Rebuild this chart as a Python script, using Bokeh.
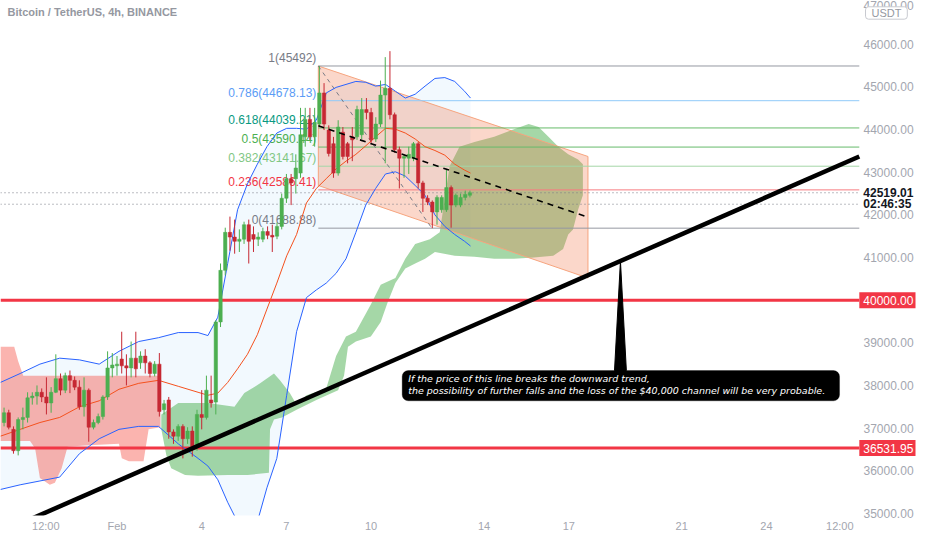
from bokeh.plotting import figure
from bokeh.models import FixedTicker, PrintfTickFormatter, Range1d, Label, BoxAnnotation
from bokeh.core.properties import value
from bokeh.embed import file_html
from bokeh.resources import INLINE

title_text = "Bitcoin / TetherUS, 4h, BINANCE"

# 4h candles, time in days from Feb 1 00:00 (first candle Jan 28 00:00)
candle_open = [37130, 37360, 36970, 36470, 37200, 37250, 37710, 37750, 37840, 37730,
               37590, 37840, 38160, 37890, 38230, 38120, 37960, 37500, 37890, 37020,
               37130, 37270, 37730, 38410, 38460, 38620, 38460, 38410, 38640, 38530,
               38690, 38530, 38280, 38500, 37430, 37660, 36910, 36810, 37040, 36750,
               36930, 36560, 37320, 37250, 37660, 37610, 39490, 40700, 41590, 41480,
               41380, 41430, 41770, 41540, 41430, 41430, 41610, 41520, 41500, 41730,
               42390, 42850, 42850, 42980, 43830, 44240, 43830, 44130, 44860, 43990,
               43670, 42980, 43940, 43670, 43830, 43830, 43880, 44470, 44400, 43780,
               44130, 44810, 44970, 44350, 43530, 43330, 43330, 43330, 43670, 42750,
               42390, 42300, 42070, 42120, 42120, 42640, 42230, 42230, 42410, 42460]
candle_high = [37480, 37430, 37040, 37250, 37480, 37840, 37840, 38000, 37930, 38190,
               37960, 38730, 38280, 38300, 38350, 38210, 38120, 38190, 37930, 37200,
               37340, 37770, 38800, 38760, 38690, 39260, 38730, 39030, 39260, 38800,
               38850, 38570, 38570, 38760, 37660, 37730, 36970, 37090, 37090, 37020,
               37040, 37430, 37890, 38230, 38230, 39530, 40860, 41700, 41960, 41890,
               41660, 41840, 41890, 41730, 41590, 41700, 41730, 41770, 41820, 42500,
               42960, 42960, 43420, 44510, 44510, 44510, 44510, 45492, 45090, 44100,
               43830, 44220, 44060, 43710, 44060, 44560, 44740, 44740, 44510, 44290,
               45150, 45700, 45840, 44400, 43600, 43420, 43600, 43710, 43710, 42800,
               42460, 42340, 42460, 42460, 43080, 42690, 42500, 42500, 42570, 42570]
candle_low = [37040, 36970, 36400, 36360, 36970, 37130, 37550, 37550, 37610, 37320,
              37360, 37820, 37770, 37820, 37820, 37890, 37430, 37270, 36680, 36970,
              37090, 37200, 37660, 38190, 38230, 38280, 38000, 38190, 38190, 38390,
              38280, 38190, 38210, 37270, 37320, 36750, 36630, 36700, 36290, 36630,
              36330, 36470, 36970, 37200, 37480, 37320, 39370, 40580, 41160, 41090,
              41130, 41320, 40860, 41130, 41270, 41360, 41430, 41130, 41430, 41660,
              42280, 42230, 42500, 42870, 43600, 43760, 43600, 44060, 43990, 43370,
              42870, 42920, 43300, 43210, 43260, 43760, 43780, 44240, 43670, 43710,
              44060, 43210, 44240, 43460, 42620, 42870, 42960, 43260, 42620, 42070,
              42230, 41688.88, 41770, 42050, 42070, 41700, 42180, 42180, 42340, 42410]
candle_close = [37360, 37020, 36470, 37200, 37250, 37710, 37750, 37840, 37730, 37590,
                37840, 38160, 37890, 38230, 38120, 37960, 37500, 37890, 37020, 37130,
                37270, 37730, 38410, 38480, 38500, 38460, 38410, 38640, 38390, 38690,
                38530, 38280, 38500, 37390, 37570, 36910, 36810, 37040, 36750, 36930,
                36560, 37320, 37250, 37890, 37590, 39490, 40700, 41590, 41480, 41380,
                41430, 41770, 41380, 41430, 41480, 41610, 41520, 41480, 41730, 42390,
                42850, 42750, 43100, 43880, 44240, 43830, 44170, 44860, 44130, 43440,
                42980, 44060, 43370, 43370, 43760, 44470, 44470, 44400, 43760, 44130,
                44810, 44970, 44350, 43530, 43330, 43370, 43420, 43670, 42750, 42390,
                42300, 42070, 42410, 42410, 42640, 42230, 42460, 42410, 42480, 42519.01]
candle_x = [-4 + i * 4 / 24 for i in range(len(candle_close))]

# Bollinger bands (read at sample times)
bb_x = [-4.13, -3.43, -2.73, -2.03, -1.33, -0.63, 0.07, 0.77, 1.47, 2.17, 2.87, 3.22, 3.57,
        3.92, 4.27, 4.62, 4.97, 5.31, 5.66, 6.01, 6.36, 6.71, 7.06, 7.41, 7.76, 8.11, 8.46,
        8.81, 9.16, 9.51, 9.86, 10.21, 10.56, 10.91, 11.26, 11.61, 11.96, 12.31, 12.52]
bb_upper = [38070, 38280, 38500, 38640, 38600, 38500, 38800, 39030, 39120, 39240, 39240, 39170,
            39600, 40860, 42120, 42730, 43190, 43600, 43920, 44030, 44030, 44010, 44220, 44860,
            44990, 45060, 45130, 45110, 45020, 45060, 44900, 44740, 44830, 45020, 45200, 45220,
            45130, 44900, 44740]
bb_mid = [36810, 36970, 37130, 37250, 37500, 37640, 37910, 38050, 38120, 37980, 37840, 37770,
          37820, 38070, 38390, 38730, 39190, 39790, 40400, 41040, 41540, 42280, 42620, 42850,
          43080, 43260, 43420, 43620, 43830, 44030, 44010, 43920, 43780, 43600, 43510, 43400,
          43190, 43050, 42980]
bb_lower = [35560, 35670, 35760, 35850, 36400, 36750, 36970, 37040, 37040, 36630, 36290, 36110,
            35790, 35260, 34800, 34640, 34800, 35600, 36290, 37770, 39260, 40060, 40240, 40400,
            40630, 40970, 41590, 42230, 42620, 42960, 43010, 42910, 42690, 42460, 42000, 41730,
            41540, 41380, 41270]

# Ichimoku cloud
red_x = [-4.13, -3.64, -3.50, -3.32, -3.08, -2.90, -2.73, -2.38, -2.20, -1.96, -1.75, -1.15,
         0.07, 0.17, 0.42, 0.94, 1.12, 1.54]
red_top = [38910, 38910, 38570, 38230, 38230, 38230, 38230, 38230, 38230, 38230, 38230, 38230,
           38230, 38230, 38230, 38230, 38230, 38230]
red_bottom = [36700, 36700, 36700, 36700, 36700, 36520, 35830, 35670, 35720, 36060, 36560, 36590,
              36630, 36290, 36220, 36220, 36970, 37020]
green_x = [1.57, 1.82, 2.17, 3.22, 4.16, 4.51, 5.07, 5.56, 5.77, 6.12, 6.36, 6.71, 7.41, 7.76,
           8.11, 8.46, 8.99, 9.34, 9.86, 10.21, 10.56, 11.08, 11.43, 11.78, 12.13, 12.66, 13.36,
           14.06, 14.58, 14.93, 15.28, 15.63, 15.98, 16.33, 16.50,
           16.50, 16.33, 16.15, 15.98, 15.80, 15.45, 14.76, 14.06, 13.36, 12.66, 11.96, 11.26,
           10.91, 10.56, 10.21, 9.86, 9.58, 9.34, 8.99, 8.46, 8.18, 8.04, 7.83, 7.06, 6.36, 5.84,
           5.56, 5.42, 5.38, 4.62, 3.92, 2.87, 2.41, 1.92, 1.75, 1.57]
green_y = [37320, 37430, 37590, 37590, 37500, 37820, 38050, 38280, 38120, 37820, 37550, 37770,
           37930, 38690, 39150, 39260, 39900, 40360, 40520, 40970, 41320, 41430, 41590, 43140,
           43600, 43710, 43830, 44010, 44130, 44060, 43830, 43600, 43420, 43300, 43190,
           42460, 42120, 41660, 41540, 41200, 41040, 41000, 40970, 40970, 41020, 41040, 41130,
           40970, 40860, 40740, 40400, 39940, 39490, 39150, 39030, 38910, 38230, 37890, 37660,
           37430, 37250, 37200, 36970, 35950, 35900, 35900, 35880, 35900, 36060, 36360, 36970]

# Fibonacci retracement
fib_start = 7.13
fib_levels = [45492, 44678.13, 44039.21, 43590.44, 43141.67, 42586.41, 41688.88]
fib_labels = ["1(45492)", "0.786(44678.13)", "0.618(44039.21)", "0.5(43590.44)",
              "0.382(43141.67)", "0.236(42586.41)", "0(41688.88)"]
fib_line_colors = ["#9598a1", "#90caf9", "#66bb6a", "#66bb6a", "#a5d6a7", "#f77c80", "#9598a1"]
fib_text_colors = ["#787b86", "#5b9cf6", "#089981", "#4caf50", "#81c784", "#f23645", "#787b86"]
fib_diag_x = [7.13, 11.15]
fib_diag_y = [45492, 41688.88]

# Parallel channel
channel_x = [7.13, 16.68, 16.68, 7.13]
channel_y = [45492, 43370, 40520, 42690]
channel_mid_x = [7.13, 16.68]
channel_mid_y = [44091, 41945]

# Levels and trend
red_levels = [40000, 36531.95]
last_price = 42519.01
countdown = "02:46:35"
dotted_levels = [42519.01, 42250]
trend_x = [-3.0, 26.29]
trend_y = [34882, 43370]

note_lines = ["If the price of this line breaks the downward trend,",
              "the possibility of further falls and the loss of the $40,000 channel will be very probable."]
note_box = dict(left=10.10, right=25.59, top=38350, bottom=37640)
note_line_y = [38170, 37870]
spike_x = [17.62, 17.83, 18.04]
spike_y = [38350, 40918, 38350]

x_ticks = [-2.52, 0, 3, 6, 9, 13, 16, 20, 23, 25.6]
x_tick_labels = ["12:00", "Feb", "4", "7", "10", "14", "17", "21", "24", "12:00"]
y_ticks = list(range(35000, 47001, 1000))

# view: price scale column sits inside the frame, right of X_PLOT
X0, X_PLOT, X_END = -4.126, 26.29, 28.28
Y0, Y1 = 34950, 47028
TAG_H = 187

p = figure(width=916, height=534, x_range=Range1d(X0, X_END), y_range=Range1d(Y0, Y1),
           output_backend="svg", toolbar_location=None, y_axis_location="right",
           min_border_left=0, min_border_top=0, min_border_right=0, min_border_bottom=18)
p.outline_line_color = None
p.grid.visible = False
p.background_fill_color = "white"
p.border_fill_color = "white"

AX_FONT = "Liberation Sans"
p.yaxis.ticker = FixedTicker(ticks=y_ticks)
p.yaxis.formatter = PrintfTickFormatter(format="%.2f")
p.xaxis.ticker = FixedTicker(ticks=x_ticks)
p.xaxis.major_label_overrides = {t: l for t, l in zip(x_ticks, x_tick_labels)}
for ax in (p.xaxis, p.yaxis):
    ax.axis_line_color = None
    ax.major_tick_line_color = None
    ax.minor_tick_line_color = None
    ax.major_tick_in = 0
    ax.major_tick_out = 0
    ax.minor_tick_in = 0
    ax.minor_tick_out = 0
    ax.major_label_text_color = "#a3a6af"
    ax.major_label_text_font = AX_FONT
p.yaxis.major_label_text_font_size = "12px"
p.xaxis.major_label_text_font_size = "11px"
p.yaxis.major_label_standoff = -52
p.xaxis.major_label_standoff = 4

# Bollinger fill
p.varea(x=bb_x, y1=bb_lower, y2=bb_upper, fill_color="#2196f3", fill_alpha=0.06)
# clouds
p.varea(x=red_x, y1=red_bottom, y2=red_top, fill_color="#f44336", fill_alpha=0.4)
p.patch(green_x, green_y, fill_color="#4caf50", fill_alpha=0.5, line_color=None)
# channel
p.patch(channel_x, channel_y, fill_color="#f0703f", fill_alpha=0.28, line_color="#f6a47e",
        line_width=1)
# fib lines
n = len(fib_levels)
p.segment(x0=[fib_start] * n, x1=[X_PLOT] * n, y0=fib_levels, y1=fib_levels,
          line_color=fib_line_colors, line_width=1)
p.line(fib_diag_x, fib_diag_y, line_color="#787b86", line_dash="4 4", line_width=1)
p.text(x=[7.06] * n, y=fib_levels, text=fib_labels, text_color=fib_text_colors,
       text_align="right", text_baseline="bottom", y_offset=-1,
       text_font=value(AX_FONT), text_font_size="12px")
# dotted lines
p.segment(x0=[X0] * 2, x1=[X_PLOT] * 2, y0=dotted_levels, y1=dotted_levels,
          line_color="#787b86", line_dash="1 3", line_width=1)
# red levels
p.segment(x0=[X0] * 2, x1=[X_PLOT] * 2, y0=red_levels, y1=red_levels,
          line_color="#f23645", line_width=3)
# bollinger lines
p.line(bb_x, bb_upper, line_color="#2962ff", line_width=1)
p.line(bb_x, bb_lower, line_color="#2962ff", line_width=1)
p.line(bb_x, bb_mid, line_color="#f4511e", line_width=1)

# candles
up_c = "#4caf50"
dn_c = "#c62833"
colors = [up_c if c >= o else dn_c for o, c in zip(candle_open, candle_close)]
p.segment(x0=candle_x, x1=candle_x, y0=candle_low, y1=candle_high, line_color=colors,
          line_width=1)
p.vbar(x=candle_x, width=0.12, top=[max(o, c) for o, c in zip(candle_open, candle_close)],
       bottom=[min(o, c) for o, c in zip(candle_open, candle_close)],
       fill_color=colors, line_color=colors, line_width=0.5)

# channel midline
p.line(channel_mid_x, channel_mid_y, line_color="black", line_dash="6 5", line_width=1.6)

# trend line
p.line(trend_x, trend_y, line_color="black", line_width=4.5)

# note
p.patch(spike_x, spike_y, fill_color="black", line_color="black")
p.add_layout(BoxAnnotation(left=note_box["left"], right=note_box["right"], top=note_box["top"],
                           bottom=note_box["bottom"], fill_color="black", fill_alpha=1,
                           line_color="black", border_radius=6))
for line, ly in zip(note_lines, note_line_y):
    p.add_layout(Label(x=note_box["left"], y=ly, x_offset=6, text=line,
                       text_color="white", text_font="DejaVu Sans", text_font_style="italic",
                       text_font_size="9.5px", text_baseline="middle"))

# title
p.add_layout(Label(x=X0, y=46754, x_offset=7, text=title_text, text_color="#9598a1",
                   text_font=AX_FONT, text_font_style="bold", text_font_size="11px",
                   text_baseline="middle"))

# price-scale tags (drawn above the scale labels)
p.quad(left=[X_PLOT] * 2, right=[X_END] * 2, top=[v + TAG_H for v in red_levels],
       bottom=[v - TAG_H for v in red_levels], fill_color="#f23645", line_color=None,
       level="annotation")
p.text(x=[X_PLOT] * 2, y=red_levels, text=["%.2f" % v for v in red_levels], x_offset=4,
       text_color="white", text_baseline="middle", text_font=value(AX_FONT),
       text_font_size="12px", level="annotation")
p.text(x=[X_PLOT] * 2, y=dotted_levels, text=["%.2f" % last_price, countdown], x_offset=4,
       text_color="#131722", text_baseline="middle", text_font=value(AX_FONT),
       text_font_size="12px", text_font_style="bold", level="annotation")
p.quad(left=[26.51], right=[27.99], top=[46880], bottom=[46590], fill_color="white",
       line_color="#c8cad0", line_width=1, border_radius=3, level="annotation")
p.text(x=[27.25], y=[46735], text=["USDT"], text_align="center", text_baseline="middle",
       text_color="#9598a1", text_font=value(AX_FONT), text_font_size="11px",
       level="annotation")

open("out.html", "w").write(file_html(p, INLINE))
